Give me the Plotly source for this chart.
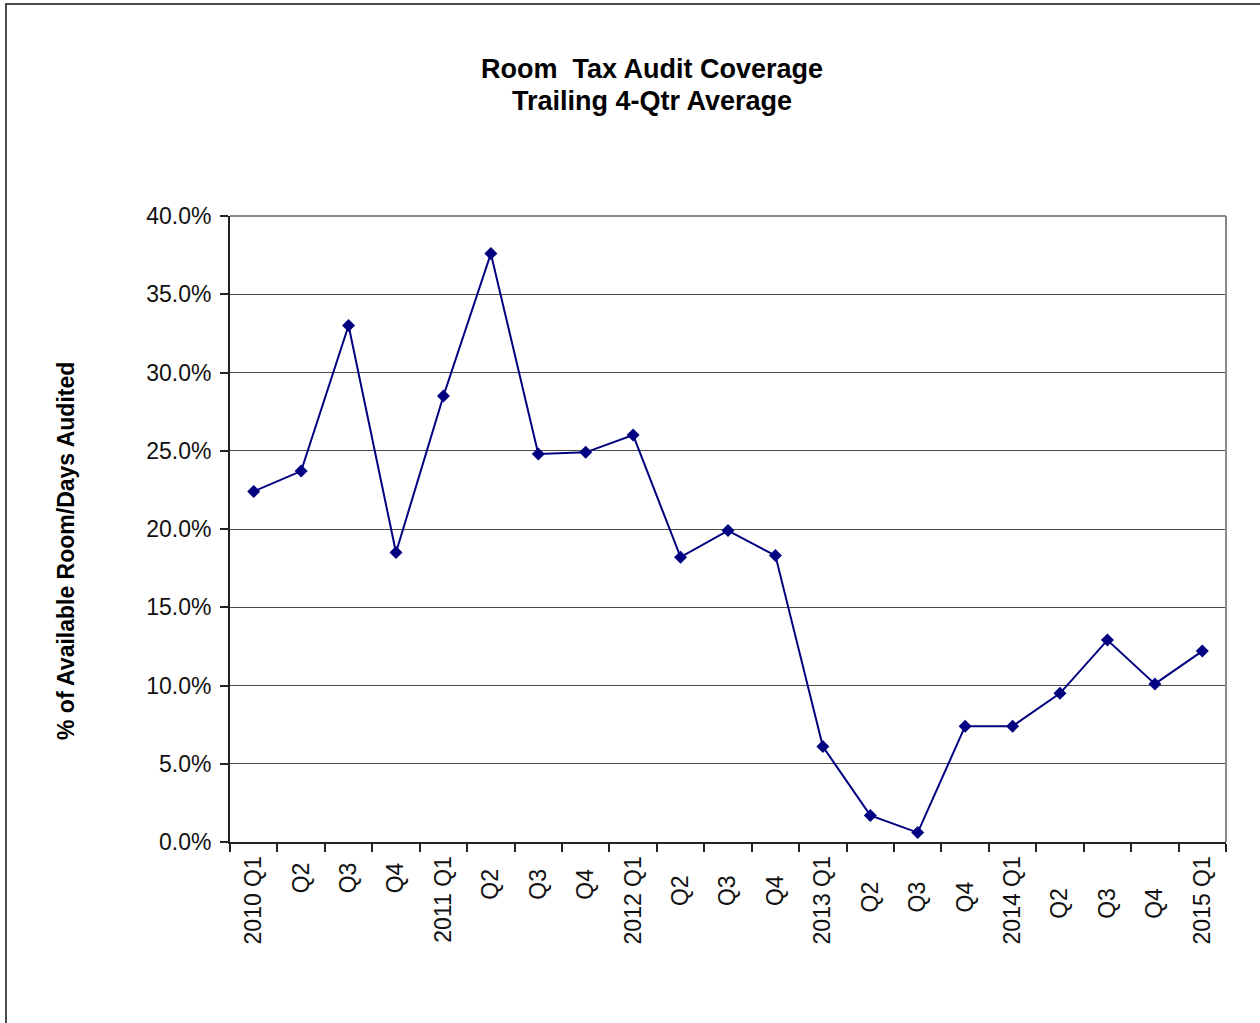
import plotly.graph_objects as go

# Quarter labels along the category axis
quarters = ["2010 Q1", "Q2 ", "Q3 ", "Q4 ",
            "2011 Q1", "Q2  ", "Q3  ", "Q4  ",
            "2012 Q1", "Q2   ", "Q3   ", "Q4   ",
            "2013 Q1", "Q2    ", "Q3    ", "Q4    ",
            "2014 Q1", "Q2     ", "Q3     ", "Q4     ",
            "2015 Q1"]

# Trailing 4-quarter average audit coverage (% of available room/days)
coverage_pct = [22.4, 23.7, 33.0, 18.5,
                28.5, 37.6, 24.8, 24.9,
                26.0, 18.2, 19.9, 18.3,
                6.1, 1.7, 0.6, 7.4,
                7.4, 9.5, 12.9, 10.1,
                12.2]

y_ticks = [0, 5, 10, 15, 20, 25, 30, 35, 40]

title_lines = ["Room\u00a0 Tax Audit Coverage", "Trailing 4-Qtr Average"]

FONT = "Liberation Sans, Arial, sans-serif"

fig = go.Figure()
fig.add_trace(go.Scatter(
    x=quarters, y=coverage_pct,
    mode="lines+markers",
    line=dict(color="#000080", width=2),
    marker=dict(symbol="diamond", size=10, color="#000080"),
    showlegend=False,
))

fig.update_layout(
    width=1260, height=1023,
    margin=dict(l=230, r=34, t=216, b=181),
    paper_bgcolor="white", plot_bgcolor="white",
    font=dict(family=FONT, size=23, color="#111111"),
    xaxis=dict(
        type="category",
        range=[-0.5, len(quarters) - 0.5],
        tickson="boundaries",
        ticks="outside", ticklen=8, tickwidth=1.5, tickcolor="#222222",
        tickangle=-90, ticklabelstandoff=3,
        showline=True, linecolor="#222222", linewidth=2,
        showgrid=False, zeroline=False,
        mirror=False,
    ),
    yaxis=dict(
        range=[0, 40],
        tickmode="array", tickvals=y_ticks,
        ticktext=[f"{v:.1f}%" for v in y_ticks],
        ticks="outside", ticklen=8, tickwidth=1.5, tickcolor="#222222",
        ticklabelstandoff=4,
        showline=True, linecolor="#222222", linewidth=2,
        showgrid=True, gridcolor="#4a4a4a", gridwidth=1,
        zeroline=False,
    ),
)

# Plot-area frame on top and right
fig.add_shape(type="line", xref="paper", yref="paper", x0=0, x1=1, y0=1, y1=1,
              line=dict(color="#888888", width=2))
fig.add_shape(type="line", xref="paper", yref="paper", x0=1, x1=1, y0=0, y1=1,
              line=dict(color="#888888", width=2))

# Outer chart border
fig.add_shape(type="rect", xref="paper", yref="paper",
              x0=(6 - 230) / 996, x1=(1275 - 230) / 996,
              y0=(842 - 1040) / 626, y1=(842 - 4) / 626,
              line=dict(color="#111111", width=1.5), layer="below")

# Chart title, one line per annotation
for line_text, y_px in zip(title_lines, [69, 101]):
    fig.add_annotation(
        text=f"<b>{line_text}</b>",
        xref="paper", yref="paper",
        x=(652 - 230) / 996, y=(842 - y_px) / 626,
        xanchor="center", yanchor="middle",
        showarrow=False, font=dict(family=FONT, size=27, color="#000000"),
    )

# Y axis title
fig.add_annotation(
    text="<b>% of Available Room/Days Audited</b>",
    xref="paper", yref="paper",
    x=(66 - 230) / 996, y=(842 - 551) / 626,
    xanchor="center", yanchor="middle", textangle=-90,
    showarrow=False, font=dict(family=FONT, size=23, color="#000000"),
)

fig.write_html("out.html")
